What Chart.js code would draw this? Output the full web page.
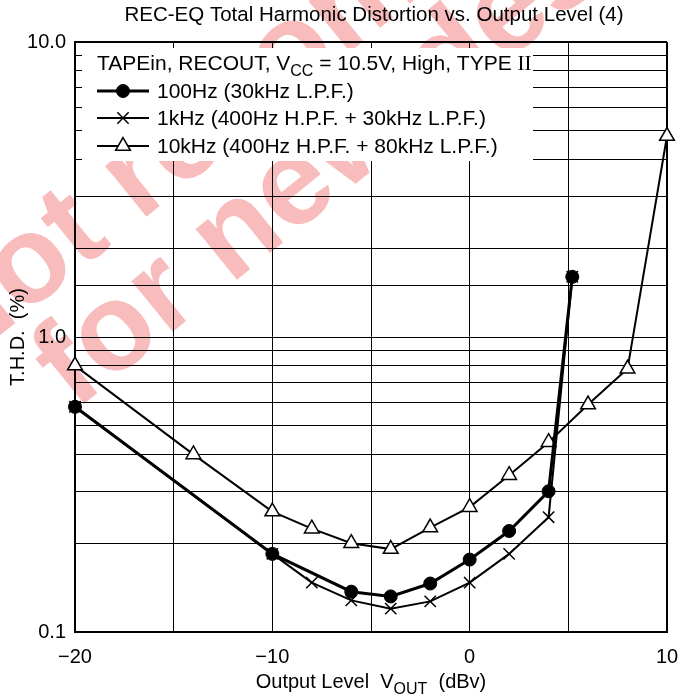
<!DOCTYPE html>
<html>
<head>
<meta charset="utf-8">
<script src="https://cdn.jsdelivr.net/npm/chart.js@4.4.1/dist/chart.umd.min.js"></script>
<style>
    html, body { margin: 0; padding: 0; background: #fff; }
    canvas { display: block; }
</style>
</head>
<body>
<canvas id="thdChart" width="684" height="697"></canvas>
<script>
// output level (dBv) and THD (%) for each test signal
var levels100 = [-20, -10, -6, -4, -2, 0, 2, 4, 5.2];
var thd100 = [0.58, 0.184, 0.137, 0.132, 0.146, 0.176, 0.22, 0.30, 1.6];

var levels1k = [-20, -10, -8, -6, -4, -2, 0, 2, 4, 5.2];
var thd1k = [0.58, 0.184, 0.147, 0.128, 0.12, 0.127, 0.147, 0.184, 0.245, 1.6];

var levels10k = [-20, -14, -10, -8, -6, -4, -2, 0, 2, 4, 6, 8, 10];
var thd10k = [0.80, 0.40, 0.256, 0.224, 0.20, 0.191, 0.226, 0.265, 0.34, 0.44, 0.59, 0.78, 4.8];

var seriesNames = ['100Hz (30kHz L.P.F.)', '1kHz (400Hz H.P.F. + 30kHz L.P.F.)', '10kHz (400Hz H.P.F. + 80kHz L.P.F.)'];
var xTickLabels = ['\u221220', '\u221210', '0', '10'];
var yTickLabels = ['0.1', '1.0', '10.0'];

var FONT = "'Liberation Sans', Arial, sans-serif";

function toPoints(xs, ys) {
    return xs.map(function (x, i) { return { x: x, y: ys[i] }; });
}

// draws a run of text pieces, some of them subscript or serif
function drawParts(ctx, parts, x, y, size, align) {
    var fonts = parts.map(function (p) {
        if (p[1] === 'sub') return Math.round(size * 0.78) + 'px ' + FONT;
        if (p[1] === 'serif') return size + "px 'Liberation Serif', serif";
        return size + 'px ' + FONT;
    });
    var total = 0;
    parts.forEach(function (p, i) {
        ctx.font = fonts[i];
        total += ctx.measureText(p[0]).width;
    });
    var cx = align === 'center' ? x - total / 2 : x;
    ctx.textAlign = 'left';
    ctx.textBaseline = 'alphabetic';
    parts.forEach(function (p, i) {
        ctx.font = fonts[i];
        ctx.fillText(p[0], cx, p[1] === 'sub' ? y + size * 0.3 : y);
        cx += ctx.measureText(p[0]).width;
    });
}

var pageDecor = {
    id: 'pageDecor',
    beforeDraw: function (chart) {
        var ctx = chart.ctx;
        ctx.save();
        ctx.fillStyle = '#fff';
        ctx.fillRect(0, 0, chart.width, chart.height);
        // "not recommended" stamp behind the graph
        ctx.fillStyle = 'rgb(249, 188, 188)';
        ctx.font = 'bold 124px ' + FONT;
        ctx.textAlign = 'left';
        ctx.textBaseline = 'alphabetic';
        ctx.translate(75, 411);
        ctx.rotate(-39 * Math.PI / 180);
        ctx.fillText('Not recommended', -72, -106);
        ctx.fillText('for new design', 0, 0);
        ctx.restore();
    },
    beforeDatasetsDraw: function (chart) {
        var ctx = chart.ctx;
        ctx.save();
        // legend panel blanks the grid behind it
        ctx.fillStyle = '#fff';
        ctx.fillRect(82, 48, 451, 113);
        ctx.fillStyle = '#000';
        drawParts(ctx, [['TAPEin, RECOUT, V', ''], ['CC', 'sub'], [' = 10.5V, High, TYPE ', ''], ['II', 'serif']], 97, 70, 21, 'left');
        var rows = [91, 118, 146];
        chart.data.datasets.forEach(function (ds, i) {
            var y = rows[i];
            ctx.strokeStyle = '#000';
            ctx.lineWidth = ds.borderWidth;
            ctx.beginPath();
            ctx.moveTo(97, y);
            ctx.lineTo(149, y);
            ctx.stroke();
            ctx.fillStyle = ds.pointBackgroundColor;
            ctx.strokeStyle = '#000';
            ctx.lineWidth = ds.pointBorderWidth;
            Chart.helpers.drawPoint(ctx, { pointStyle: ds.pointStyle, radius: ds.pointRadius, rotation: 0, borderWidth: ds.pointBorderWidth }, 123, y);
            ctx.fillStyle = '#000';
            ctx.font = '21px ' + FONT;
            ctx.textBaseline = 'middle';
            ctx.fillText(ds.label, 157, y + 1);
        });
        ctx.restore();
    },
    afterDraw: function (chart) {
        var ctx = chart.ctx;
        ctx.save();
        ctx.fillStyle = '#000';
        ctx.font = '20.5px ' + FONT;
        ctx.textAlign = 'center';
        ctx.textBaseline = 'alphabetic';
        ctx.fillText('REC-EQ Total Harmonic Distortion vs. Output Level (4)', 374, 21);
        drawParts(ctx, [['Output Level  V', ''], ['OUT', 'sub'], ['  (dBv)', '']], 371, 688, 20, 'center');
        ctx.translate(18, 337);
        ctx.rotate(-Math.PI / 2);
        ctx.font = '20px ' + FONT;
        ctx.textAlign = 'center';
        ctx.textBaseline = 'middle';
        ctx.fillText('T.H.D.  (%)', 0, 0);
        ctx.restore();
    }
};

var ctx1 = document.getElementById('thdChart').getContext('2d');
var myChart1 = new Chart(ctx1, {
    type: 'line',
    data: {
        datasets: [{
            label: seriesNames[0],
            data: toPoints(levels100, thd100),
            borderColor: '#000',
            borderWidth: 3,
            pointStyle: 'circle',
            pointRadius: 6.5,
            pointBackgroundColor: '#000',
            pointBorderColor: '#000',
            pointBorderWidth: 1,
            clip: false
        }, {
            label: seriesNames[1],
            data: toPoints(levels1k, thd1k),
            borderColor: '#000',
            borderWidth: 2,
            pointStyle: 'crossRot',
            pointRadius: 8,
            pointBackgroundColor: '#000',
            pointBorderColor: '#000',
            pointBorderWidth: 1.5,
            clip: false
        }, {
            label: seriesNames[2],
            data: toPoints(levels10k, thd10k),
            borderColor: '#000',
            borderWidth: 2,
            pointStyle: 'triangle',
            pointRadius: 8.5,
            pointBackgroundColor: '#fff',
            pointBorderColor: '#000',
            pointBorderWidth: 1.5,
            clip: false
        }]
    },
    options: {
        responsive: false,
        animation: false,
        layout: { padding: { top: 42, right: 17, left: 0, bottom: 0 } },
        plugins: {
            legend: { display: false },
            title: { display: false },
            tooltip: { enabled: false }
        },
        scales: {
            x: {
                type: 'linear',
                min: -20,
                max: 10,
                afterFit: function (scale) {
                    scale.height = 65;
                    scale.paddingLeft = 0;
                    scale.paddingRight = 0;
                },
                ticks: {
                    stepSize: 5,
                    autoSkip: false,
                    maxRotation: 0,
                    padding: 13,
                    color: '#000',
                    font: { family: FONT, size: 20 },
                    callback: function (v) {
                        var i = [-20, -10, 0, 10].indexOf(v);
                        return i < 0 ? '' : xTickLabels[i];
                    }
                },
                grid: {
                    color: '#000',
                    lineWidth: function (c) { return c.tick && c.tick.value === 10 ? 2 : 1; },
                    drawTicks: false
                },
                border: { color: '#000', width: 2 }
            },
            y: {
                type: 'logarithmic',
                min: 0.1,
                max: 10,
                afterFit: function (scale) {
                    scale.width = 75;
                    scale.paddingTop = 0;
                    scale.paddingBottom = 0;
                },
                ticks: {
                    autoSkip: false,
                    padding: 9,
                    color: '#000',
                    font: { family: FONT, size: 20 },
                    callback: function (v) {
                        var e = Math.log10(v);
                        if (Math.abs(e - Math.round(e)) > 1e-6) return '';
                        return yTickLabels[Math.round(e) + 1];
                    }
                },
                grid: {
                    color: '#000',
                    lineWidth: function (c) { return c.tick && Math.abs(c.tick.value - 10) < 1e-6 ? 2 : 1; },
                    drawTicks: false
                },
                border: { color: '#000', width: 2 }
            }
        }
    },
    plugins: [pageDecor]
});
</script>
</body>
</html>
